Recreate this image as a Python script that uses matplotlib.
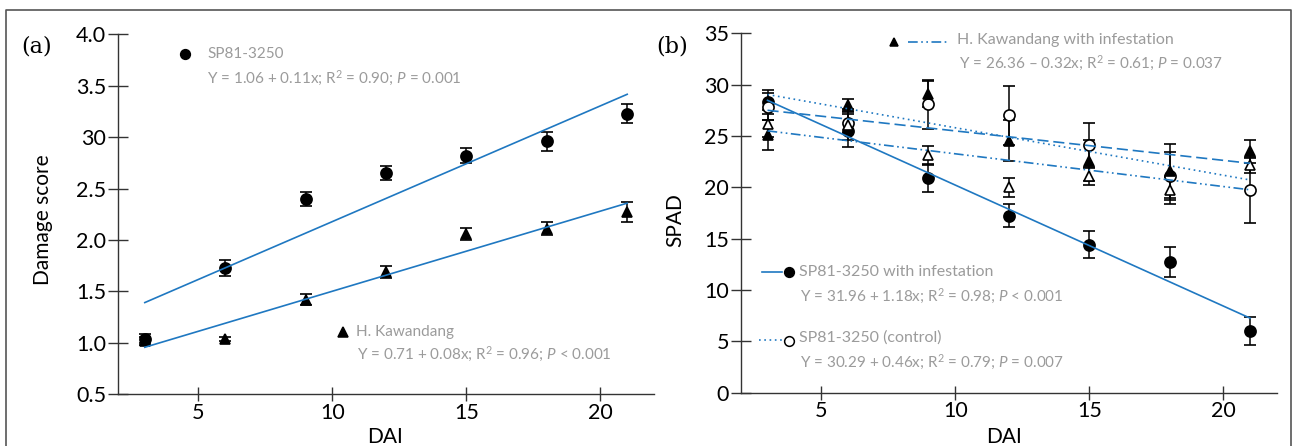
import numpy as np
import matplotlib
matplotlib.use("Agg")
import matplotlib.pyplot as plt
from matplotlib.lines import Line2D

plt.rcParams['font.family'] = ['Lato', 'DejaVu Sans']
plt.rcParams['mathtext.fontset'] = 'custom'
plt.rcParams['mathtext.rm'] = 'Lato'
plt.rcParams['mathtext.it'] = 'Lato:italic'
plt.rcParams['lines.scale_dashes'] = False

# ---- data ----
days = [3, 6, 9, 12, 15, 18, 21]

# (a) damage score
dmg_sp = [1.04, 1.73, 2.40, 2.65, 2.82, 2.96, 3.23]
dmg_sp_err = [0.045, 0.077, 0.07, 0.067, 0.07, 0.09, 0.093]
dmg_hk = [1.02, 1.035, 1.42, 1.69, 2.06, 2.11, 2.27]
dmg_hk_err = [0.04, 0.02, 0.055, 0.057, 0.058, 0.066, 0.097]
dmg_yticks = [0.5, 1.0, 1.5, 2.0, 2.5, 3.0, 3.5, 4.0]
dmg_yticklabels = ['0.5', '1.0', '1.5', '2.0', '2.5', '30', '3.5', '4.0']

# (b) SPAD
spad_sp_inf = [28.3, 25.5, 20.9, 17.25, 14.4, 12.7, 6.0]
spad_sp_inf_err = [1.2, 1.6, 1.4, 1.1, 1.3, 1.45, 1.35]
spad_sp_ctrl = [27.85, 26.3, 28.1, 27.0, 24.1, 21.1, 19.7]
spad_sp_ctrl_err = [1.3, 1.0, 2.4, 2.85, 2.2, 2.3, 3.2]
spad_hk_inf = [25.1, 28.0, 29.1, 24.55, 22.6, 21.6, 23.5]
spad_hk_inf_err = [1.5, 0.6, 1.3, 2.0, 2.0, 2.6, 1.1]
spad_hk_ctrl = [26.2, 26.1, 23.1, 20.0, 21.1, 19.7, 22.2]
spad_hk_ctrl_err = [1.3, 1.5, 0.9, 0.95, 0.9, 1.3, 0.8]
spad_yticks = [0, 5, 10, 15, 20, 25, 30, 35]
xticks = [5, 10, 15, 20]

W, H = 1293, 446
BLUE = '#1f78c1'
GRAY = '#9b9b9b'
AX = '#333333'
TICK_FS = 15.5

fig = plt.figure(figsize=(W / 100, H / 100), dpi=100)


def fx(x):
    return x / W


def fy(y):
    return 1 - y / H


def box(l, t, r, b):
    return [fx(l), fy(b), fx(r) - fx(l), fy(t) - fy(b)]


def style(ax):
    for s in ['top', 'right']:
        ax.spines[s].set_visible(False)
    for s in ['left', 'bottom']:
        ax.spines[s].set_color(AX)
        ax.spines[s].set_linewidth(1.0)
    ax.tick_params(axis='y', direction='inout', length=15, width=1.0,
                   color=AX, labelsize=TICK_FS, pad=1)
    ax.tick_params(axis='x', direction='inout', length=10, width=1.0,
                   color=AX, labelsize=TICK_FS, pad=1)
    ax.set_xlim(2, 22)
    ax.set_xticks(xticks)
    ax.patch.set_alpha(0)


def fit_line(ax, y, **kw):
    k, b = np.polyfit(days, y, 1)
    xs = np.array([days[0], days[-1]])
    ax.plot(xs, b + k * xs, color=BLUE, lw=1.2, zorder=4, **kw)


def errpts(ax, y, e, marker, filled=True):
    ax.errorbar(days, y, yerr=e, fmt=marker, ms=8 if marker == 'o' else 7.5,
                mfc='black' if filled else 'white', mec='black', mew=1.2,
                ecolor='black', elinewidth=1.1, capsize=4.5, capthick=1.1,
                zorder=3)


# ---- panel (a) ----
ax1 = fig.add_axes(box(118, 34.3, 654, 394.3))
style(ax1)
ax1.set_ylim(0.5, 4.0)
ax1.set_yticks(dmg_yticks)
ax1.set_yticklabels(dmg_yticklabels)
errpts(ax1, dmg_sp, dmg_sp_err, 'o')
errpts(ax1, dmg_hk, dmg_hk_err, '^')
fit_line(ax1, dmg_sp)
fit_line(ax1, dmg_hk)
fig.text(fx(43), fy(220), 'Damage score', rotation=90, ha='center',
         va='center', fontsize=15)

# ---- panel (b) ----
ax2 = fig.add_axes(box(740.7, 33.3, 1277, 392.7))
style(ax2)
ax2.set_ylim(0, 35)
ax2.set_yticks(spad_yticks)
errpts(ax2, spad_sp_inf, spad_sp_inf_err, 'o')
errpts(ax2, spad_sp_ctrl, spad_sp_ctrl_err, 'o', filled=False)
errpts(ax2, spad_hk_inf, spad_hk_inf_err, '^')
errpts(ax2, spad_hk_ctrl, spad_hk_ctrl_err, '^', filled=False)
DOT = (0, (1.2, 2.6))
LDASH = (0, (8, 3.5))
DDOT = (0, (7, 2.5, 1.2, 2.5, 1.2, 2.5))
fit_line(ax2, spad_sp_inf, ls='-')
fit_line(ax2, spad_sp_ctrl, ls=DOT)
fit_line(ax2, spad_hk_inf, ls=LDASH)
fit_line(ax2, spad_hk_ctrl, ls=DDOT)
fig.text(fx(675), fy(220), 'SPAD', rotation=90, ha='center',
         va='center', fontsize=15)

for cx in (385, 1004):
    fig.text(fx(cx), fy(437), 'DAI', ha='center', va='center', fontsize=15)

# panel letters
fig.text(fx(21), fy(46), '(a)', family='DejaVu Serif', fontsize=16,
         va='center', ha='left')
fig.text(fx(656), fy(46), '(b)', family='DejaVu Serif', fontsize=16,
         va='center', ha='left')


# ---- annotations ----
def mark(x, y, marker, filled=True, size=7):
    fig.add_artist(Line2D([fx(x)], [fy(y)], marker=marker, ms=size,
                          mfc='black' if filled else 'white', mec='black',
                          mew=1.1, transform=fig.transFigure))


def seg(x0, x1, y, ls):
    fig.add_artist(Line2D([fx(x0), fx(x1)], [fy(y), fy(y)], color=BLUE,
                          lw=1.2, ls=ls, transform=fig.transFigure))


def note(x, y, s, size=11):
    fig.text(fx(x), fy(y), s, color=GRAY, fontsize=size, ha='left',
             va='center')


mark(185, 54, 'o')
note(207, 54, 'SP81-3250')
note(207, 78, 'Y = 1.06 + 0.11x; R$^2$ = 0.90; $P$ = 0.001')
mark(343, 332, '^')
note(356, 332, 'H. Kawandang')
note(357, 354, 'Y = 0.71 + 0.08x; R$^2$ = 0.96; $P$ < 0.001')

mark(894, 42, '^', size=6)
seg(908, 949, 42, DDOT)
note(957, 40, 'H. Kawandang with infestation', size=11.5)
note(959, 63, 'Y = 26.36 \u2013 0.32x; R$^2$ = 0.61; $P$ = 0.037')
seg(762, 782, 272, '-')
mark(789, 272, 'o')
note(799, 272, 'SP81-3250 with infestation', size=11.5)
note(800, 296, 'Y = 31.96 + 1.18x; R$^2$ = 0.98; $P$ < 0.001')
seg(759, 783, 340, DOT)
mark(789, 341, 'o', filled=False)
note(799, 338, 'SP81-3250 (control)', size=11.5)
note(800, 362, 'Y = 30.29 + 0.46x; R$^2$ = 0.79; $P$ = 0.007')

# outer frame (bottom edge is off the picture)
fc = '#555555'
fig.add_artist(Line2D([fx(6), fx(6), fx(1291), fx(1291)],
                      [fy(H + 5), fy(10), fy(10), fy(H + 5)],
                      color=fc, lw=1.2, transform=fig.transFigure))

fig.savefig('out.png', dpi=100)
